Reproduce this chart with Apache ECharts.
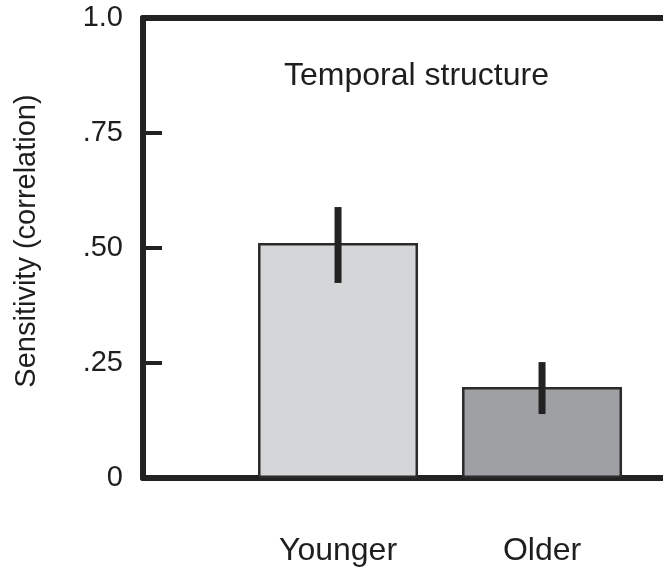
<!DOCTYPE html>
<html>
<head>
<meta charset="utf-8">
<script src="https://cdn.jsdelivr.net/npm/echarts@6/dist/echarts.min.js"></script>
<style>html,body{margin:0;padding:0;background:#fff}#c{width:663px;height:572px}</style>
</head>
<body>
<div id="c"></div>
<script>
var categories = ['Younger', 'Older'];
var values = [0.511, 0.198];
var errLow = [0.424, 0.139];
var errHigh = [0.589, 0.252];
var barColors = ['#d5d6d8', '#9fa0a3'];
var yTickValues = [0, 0.25, 0.5, 0.75, 1.0];
var yTickLabels = ['0', '.25', '.50', '.75', '1.0'];
var titleText = 'Temporal structure';
var yName = 'Sensitivity (correlation)';

var font = 'Liberation Sans, Arial, Helvetica, sans-serif';
var chart = echarts.init(document.getElementById('c'), null, {renderer: 'canvas'});

var barData = categories.map(function (c, i) {
  return {value: [i + 1, values[i]], itemStyle: {color: barColors[i]}};
});
var errData = categories.map(function (c, i) {
  return [i + 1, errLow[i], errHigh[i]];
});

chart.setOption({
  animation: false,
  backgroundColor: '#fff',
  title: {
    text: titleText,
    left: 284,
    top: 60,
    padding: 0,
    textStyle: {fontFamily: font, fontSize: 32, fontWeight: 'normal', color: '#1e1e1e'}
  },
  grid: {left: 143, right: 0, top: 18, bottom: 94, containLabel: false},
  xAxis: [{
    type: 'value',
    min: 0.044,
    max: 2.593,
    position: 'bottom',
    splitLine: {show: false},
    axisTick: {show: false},
    axisLine: {show: true, onZero: false, lineStyle: {color: '#222', width: 6}},
    axisLabel: {
      customValues: [1, 2],
      margin: 57,
      fontFamily: font,
      fontSize: 32,
      color: '#1e1e1e',
      formatter: function (v) { return categories[Math.round(v) - 1] || ''; }
    }
  }, {
    type: 'value',
    min: 0.044,
    max: 2.593,
    position: 'top',
    splitLine: {show: false},
    axisTick: {show: false},
    axisLabel: {show: false},
    axisLine: {show: true, onZero: false, lineStyle: {color: '#222', width: 6}}
  }],
  yAxis: {
    type: 'value',
    min: 0,
    max: 1,
    interval: 0.25,
    name: yName,
    nameLocation: 'middle',
    nameGap: 102,
    nameTextStyle: {fontFamily: font, fontSize: 29, color: '#1e1e1e', padding: [0, 0, 0, 14]},
    splitLine: {show: false},
    axisLine: {show: true, lineStyle: {color: '#222', width: 6}},
    axisTick: {show: true, inside: true, length: 19, lineStyle: {color: '#222', width: 4}},
    axisLabel: {
      margin: 20,
      fontFamily: font,
      fontSize: 29,
      color: '#1e1e1e',
      formatter: function (v) {
        var idx = yTickValues.findIndex(function (t) { return Math.abs(t - v) < 1e-6; });
        return idx >= 0 ? yTickLabels[idx] : '';
      }
    }
  },
  series: [{
    type: 'bar',
    xAxisIndex: 0,
    barWidth: 160,
    data: barData,
    itemStyle: {borderColor: '#2b2b2b', borderWidth: 2.5},
    z: 1
  }, {
    type: 'custom',
    xAxisIndex: 0,
    data: errData,
    z: 5,
    renderItem: function (params, api) {
      var lo = api.coord([api.value(0), api.value(1)]);
      var hi = api.coord([api.value(0), api.value(2)]);
      return {
        type: 'line',
        shape: {x1: lo[0], y1: lo[1], x2: hi[0], y2: hi[1]},
        style: {stroke: '#222', lineWidth: 7}
      };
    }
  }]
});
</script>
</body>
</html>
